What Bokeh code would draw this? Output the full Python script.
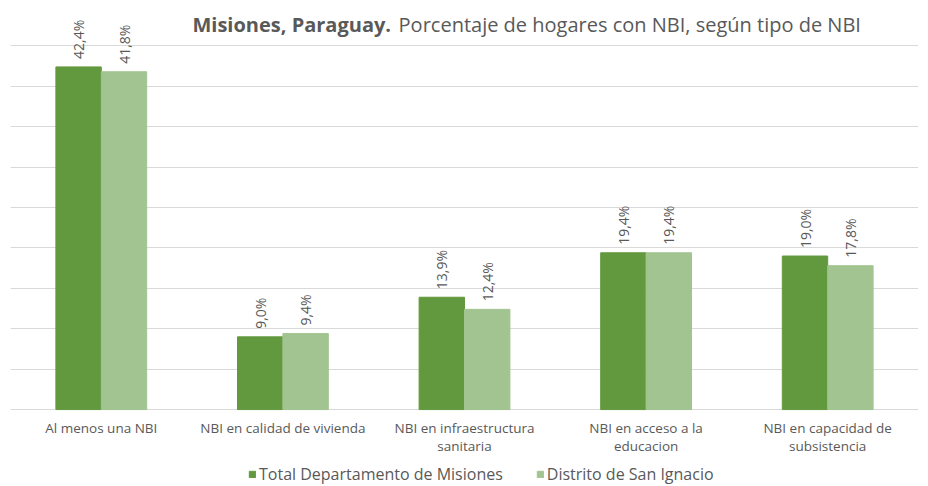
from bokeh.plotting import figure
from bokeh.models import Range1d, FixedTicker, Legend, LegendItem, Label, ColumnDataSource
from bokeh.core.properties import value
from bokeh.embed import file_html
from bokeh.resources import INLINE
import math

categories = ["Al menos una NBI", "NBI en calidad de vivienda", "NBI en infraestructura\nsanitaria",
              "NBI en acceso a la\neducacion", "NBI en capacidad de\nsubsistencia"]
series_names = ["Total Departamento de Misiones", "Distrito de San Ignacio"]
total_misiones = [42.4, 9.0, 13.9, 19.4, 19.0]
san_ignacio = [41.8, 9.4, 12.4, 19.4, 17.8]
label_total = ["42,4%", "9,0%", "13,9%", "19,4%", "19,0%"]
label_san = ["41,8%", "9,4%", "12,4%", "19,4%", "17,8%"]
y_ticks = [0, 5, 10, 15, 20, 25, 30, 35, 40, 45]

FONT = "Open Sans"
TXT = "#595959"
C1 = "#62993E"
C2 = "#A1C490"

p = figure(frame_width=908, frame_height=481, output_backend="svg", toolbar_location=None,
           x_range=Range1d(0, 5), y_range=Range1d(-9.52, 50),
           min_border_left=10, min_border_right=10, min_border_top=5, min_border_bottom=0)
p.outline_line_color = None
p.background_fill_color = "white"
p.border_fill_color = "white"
p.xaxis.visible = False
p.yaxis.visible = False

n = len(categories)
xs1 = [i + 0.5 - 0.125 for i in range(n)]
xs2 = [i + 0.5 + 0.125 for i in range(n)]
s1 = ColumnDataSource(dict(x=xs1, top=total_misiones, lab=label_total))
s2 = ColumnDataSource(dict(x=xs2, top=san_ignacio, lab=label_san))
sc = ColumnDataSource(dict(x=[i + 0.5 for i in range(n)], y=[0] * n, lab=categories))

p.ygrid.ticker = FixedTicker(ticks=y_ticks)
p.ygrid.grid_line_color = "#D9D9D9"
p.xgrid.grid_line_color = None

r1 = p.vbar(x="x", top="top", width=0.25, bottom=0, source=s1, fill_color=C1, line_color=C1)
r2 = p.vbar(x="x", top="top", width=0.25, bottom=0, source=s2, fill_color=C2, line_color=C2)

for s in (s1, s2):
    p.text(x="x", y="top", text="lab", source=s, angle=math.pi / 2,
           text_align="left", text_baseline="middle", y_offset=-8,
           text_font=value(FONT), text_font_size="14px", text_color=TXT)

# category labels (x axis)
p.text(x="x", y="y", text="lab", source=sc, text_align="center", text_baseline="top",
       y_offset=9, text_line_height=1.0,
       text_font=value(FONT), text_font_size="13.5px", text_color=TXT)

legend = Legend(items=[LegendItem(label=series_names[0], renderers=[r1]),
                       LegendItem(label=series_names[1], renderers=[r2])],
                orientation="horizontal",
                label_text_font=FONT, label_text_font_size="16px", label_text_color=TXT,
                label_height=16,
                glyph_width=8, glyph_height=8, label_standoff=3, spacing=33,
                border_line_color=None, background_fill_alpha=0, padding=0, margin=0,
                location=(238, 1))
p.add_layout(legend, "center")

t1 = Label(x=1.002, y=47.7, text="Misiones, Paraguay.", text_font=FONT, text_font_size="20px",
           text_font_style="bold", text_color=TXT, text_baseline="middle", text_align="left")
t2 = Label(x=2.137, y=47.7, text="Porcentaje de hogares con NBI, según tipo de NBI", text_font=FONT,
           text_font_size="20px", text_color=TXT, text_baseline="middle", text_align="left")
p.add_layout(t1)
p.add_layout(t2)

open("out.html", "w").write(file_html(p, INLINE))
